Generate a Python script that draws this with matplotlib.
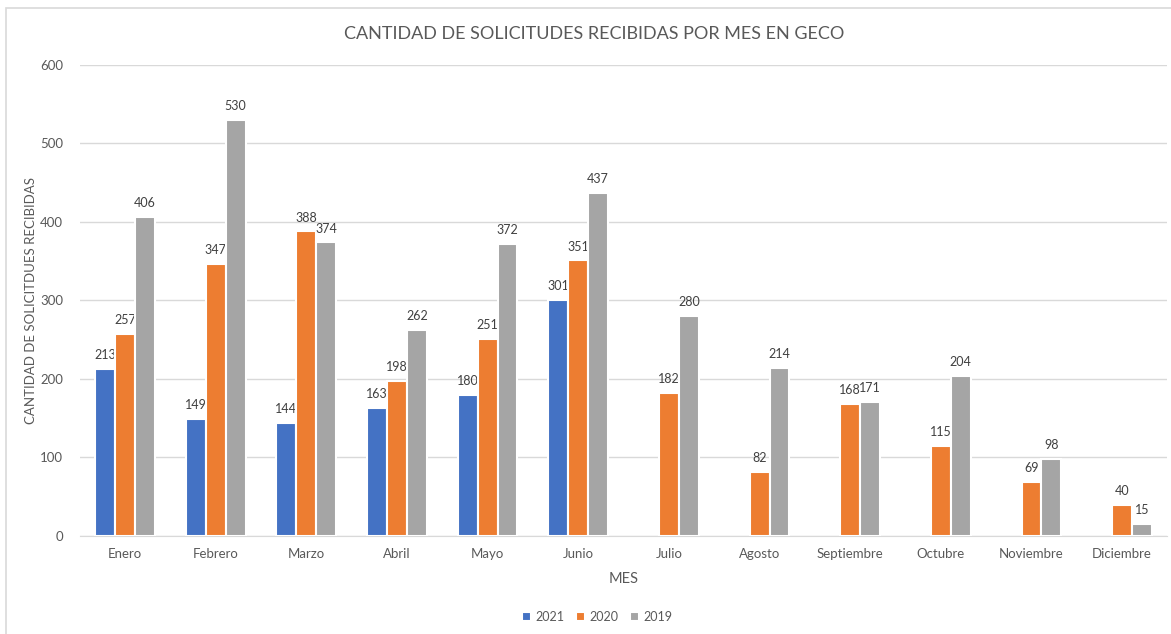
import numpy as np
import matplotlib.pyplot as plt
from matplotlib.patches import Rectangle

plt.rcParams['font.family'] = ['Lato', 'DejaVu Sans']

meses = ["Enero", "Febrero", "Marzo", "Abril", "Mayo", "Junio", "Julio",
         "Agosto", "Septiembre", "Octubre", "Noviembre", "Diciembre"]
v2021 = [213, 149, 144, 163, 180, 301, None, None, None, None, None, None]
v2020 = [257, 347, 388, 198, 251, 351, 182, 82, 168, 115, 69, 40]
v2019 = [406, 530, 374, 262, 372, 437, 280, 214, 171, 204, 98, 15]
series = [("2021", v2021, "#4472C4"), ("2020", v2020, "#ED7D31"), ("2019", v2019, "#A5A5A5")]

txt = "#595959"
fig = plt.figure(figsize=(11.71, 6.34), dpi=100)
ax = fig.add_axes([0.068, 0.1546, 0.929, 0.743])

# border round the chart area
fig.patches.append(Rectangle((6 / 1171, -0.01), 1.02, 1 - 8 / 634 + 0.01,
                             transform=fig.transFigure, fill=False,
                             edgecolor="#D9D9D9", linewidth=1.2))

x = np.arange(len(meses))
w = 0.22
for i, (name, vals, col) in enumerate(series):
    xs = [xi + (i - 1) * w for xi, v in zip(x, vals) if v is not None]
    ys = [v for v in vals if v is not None]
    bars = ax.bar(xs, ys, width=w, color=col, edgecolor="white", linewidth=1.5,
                  label=name, zorder=3)
    for b, v in zip(bars, ys):
        ax.text(b.get_x() + b.get_width() / 2, v + 10, str(v), ha="center",
                va="bottom", fontsize=9, color="#404040")

ax.set_xlim(-0.5, 11.5)
ax.set_ylim(0, 600)
ax.set_yticks(range(0, 601, 100))
ax.set_xticks(x)
ax.set_xticklabels(meses)
ax.tick_params(axis="both", length=0, colors=txt, labelsize=9.5)
ax.tick_params(axis="x", pad=9)
ax.tick_params(axis="y", pad=12)
ax.grid(axis="y", color="#D9D9D9", linewidth=1, zorder=0)
for s in ["top", "right", "left"]:
    ax.spines[s].set_visible(False)
ax.spines["bottom"].set_color("#D9D9D9")

ax.set_xlabel("MES", color=txt, fontsize=10.5, labelpad=8)
ax.set_ylabel("CANTIDAD DE SOLICITDUES RECIBIDAS", color=txt, fontsize=9.5, labelpad=2)
fig.text(0.507, 1 - 34 / 634, "CANTIDAD DE SOLICITUDES RECIBIDAS POR MES EN GECO",
         ha="center", va="center", fontsize=13, color=txt)

leg = fig.legend(loc="center", bbox_to_anchor=(0.51, 1 - 617 / 634), ncol=3,
                 frameon=False, fontsize=9, handlelength=0.7, handleheight=0.7,
                 handletextpad=0.3, columnspacing=1.0)
for t in leg.get_texts():
    t.set_color(txt)

fig.savefig("out.png", dpi=100)
